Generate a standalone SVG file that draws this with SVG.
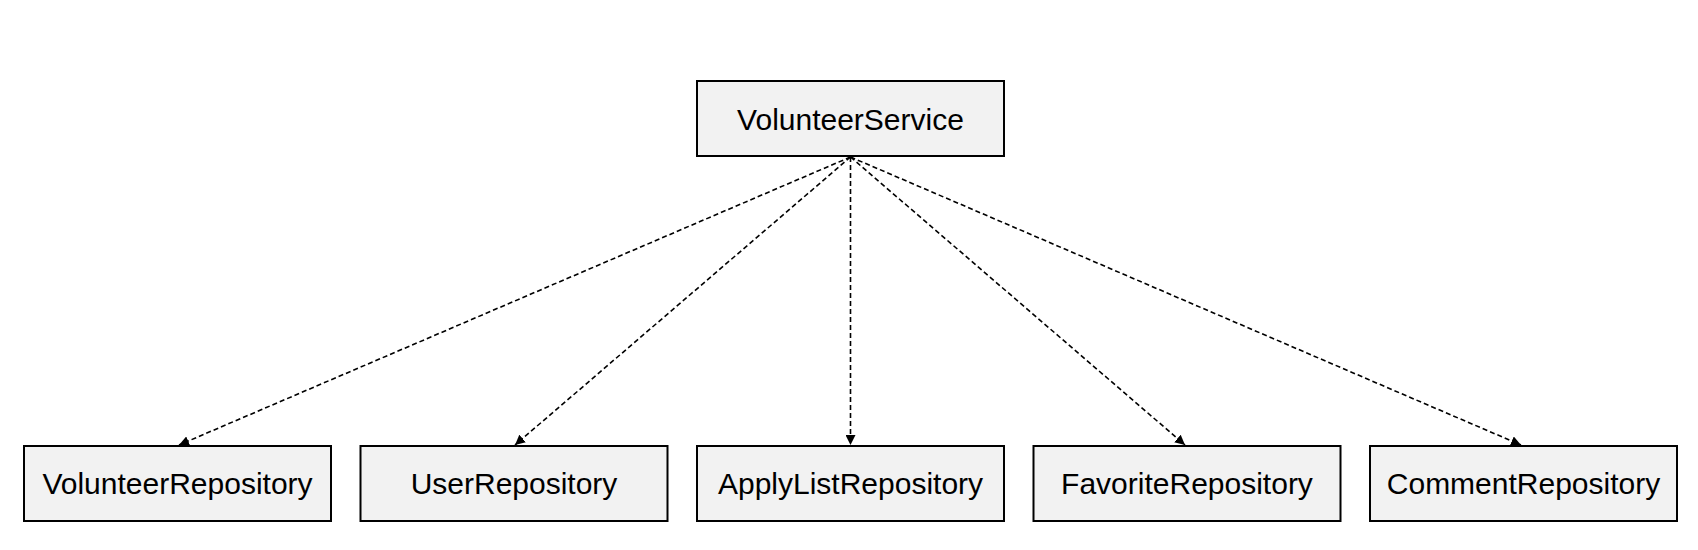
<svg xmlns="http://www.w3.org/2000/svg" width="1698" height="550" viewBox="0 0 1698 550">
<style>
.box{fill:#f2f2f2;stroke:#000;stroke-width:2}
.lbl{font-family:"Liberation Sans",Arial,sans-serif;font-size:30px;fill:#000;text-anchor:middle}
.conn{stroke:#000;stroke-width:1.6;stroke-dasharray:5 3;fill:none}
</style>
<defs>
<marker id="ah" viewBox="0 0 10 10" refX="10" refY="5" markerWidth="10" markerHeight="10" markerUnits="userSpaceOnUse" orient="auto">
<path d="M0,0 L10,5 L0,10 z" fill="#000"/>
</marker>
</defs>
<rect width="1698" height="550" fill="#fff"/>
<g id="connectors">
<line class="conn" x1="850.5" y1="157" x2="179" y2="445" marker-end="url(#ah)"/>
<line class="conn" x1="850.5" y1="157" x2="515" y2="445" marker-end="url(#ah)"/>
<line class="conn" x1="850.5" y1="157" x2="850.5" y2="445" marker-end="url(#ah)"/>
<line class="conn" x1="850.5" y1="157" x2="1185" y2="445" marker-end="url(#ah)"/>
<line class="conn" x1="850.5" y1="157" x2="1521" y2="445" marker-end="url(#ah)"/>
</g>
<g id="VolunteerService">
<rect class="box" x="697" y="81" width="307" height="75"/>
<text class="lbl" x="850.5" y="130">VolunteerService</text>
</g>
<g id="VolunteerRepository">
<rect class="box" x="24" y="446" width="307" height="75"/>
<text class="lbl" x="177.5" y="494">VolunteerRepository</text>
</g>
<g id="UserRepository">
<rect class="box" x="360.5" y="446" width="307" height="75"/>
<text class="lbl" x="514" y="494">UserRepository</text>
</g>
<g id="ApplyListRepository">
<rect class="box" x="697" y="446" width="307" height="75"/>
<text class="lbl" x="850.5" y="494">ApplyListRepository</text>
</g>
<g id="FavoriteRepository">
<rect class="box" x="1033.5" y="446" width="307" height="75"/>
<text class="lbl" x="1187" y="494">FavoriteRepository</text>
</g>
<g id="CommentRepository">
<rect class="box" x="1370" y="446" width="307" height="75"/>
<text class="lbl" x="1523.5" y="494">CommentRepository</text>
</g>
</svg>
